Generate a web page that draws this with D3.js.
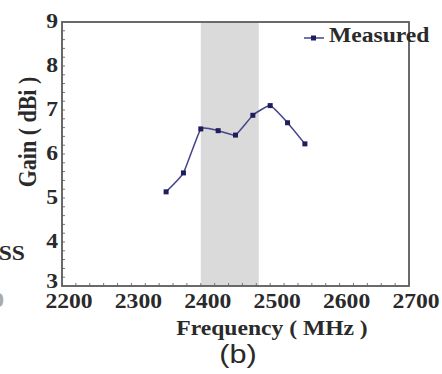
<!DOCTYPE html>
<html>
<head>
<meta charset="utf-8">
<script src="https://cdn.jsdelivr.net/npm/d3@7"></script>
<style>
  body { margin: 0; background: #fff; }
  svg { display: block; }
</style>
</head>
<body>
<svg id="chart" width="442" height="374"></svg>
<script>
// measured gain vs frequency
const freqs = [2350, 2375, 2400, 2425, 2450, 2475, 2500, 2525, 2550];
const gains = [5.14, 5.57, 6.57, 6.53, 6.43, 6.88, 7.10, 6.71, 6.23];
const band = [2400, 2483.5];
const xTicks = [2200, 2300, 2400, 2500, 2600, 2700];
const yTicks = [3, 4, 5, 6, 7, 8, 9];

const sx = 1.18; // the figure is a bit stretched sideways
const serif = "'Liberation Serif', 'Times New Roman', Times, serif";

let svg = d3.select("#chart");

let x = d3.scaleLinear().domain([2200, 2700]).range([62, 409]);
let y = d3.scaleLinear().domain([3, 9]).range([286, 22]);

// places a bold serif text with the same horizontal stretch as the picture
function label(txt, px, py, size, anchor, rot) {
  return svg.append("text")
    .text(txt)
    .attr("text-anchor", anchor)
    .attr("font-size", size)
    .style("font-family", serif)
    .style("font-weight", "bold")
    .style("fill", "#2a2a2a")
    .attr("transform", "translate(" + px + "," + py + ") scale(" + sx + ",1)" + (rot ? " rotate(" + rot + ")" : ""));
}

// shaded band
svg.append("rect")
  .attr("x", x(band[0]))
  .attr("y", y(9))
  .attr("width", x(band[1]) - x(band[0]))
  .attr("height", y(3) - y(9))
  .attr("fill", "#dadada");

// minor ticks, inward
svg.selectAll(".xminor")
  .data(d3.range(2220, 2700, 20))
  .join("line")
    .attr("x1", d => x(d)).attr("x2", d => x(d))
    .attr("y1", y(3)).attr("y2", y(3) - 3)
    .attr("stroke", "#777").attr("stroke-width", 1);

svg.selectAll(".yminor")
  .data(d3.range(3.2, 9, 0.2))
  .join("line")
    .attr("x1", x(2200)).attr("x2", x(2200) + 3)
    .attr("y1", d => y(d)).attr("y2", d => y(d))
    .attr("stroke", "#777").attr("stroke-width", 1);

// frame
svg.append("rect")
  .attr("x", x(2200))
  .attr("y", y(9))
  .attr("width", x(2700) - x(2200))
  .attr("height", y(3) - y(9))
  .attr("fill", "none")
  .attr("stroke", "#5a5a5a")
  .attr("stroke-width", 1.8);

// tick labels
xTicks.forEach(t => label(t, x(t) + 7, 308, 20, "middle"));
yTicks.forEach(t => label(t, 58, y(t) + (t == 3 ? 2 : 6), 20, "end"));

// curve + markers
let pts = freqs.map((f, i) => [f, gains[i]]);
let line = d3.line()
  .x(d => x(d[0]))
  .y(d => y(d[1]))
  .curve(d3.curveCardinal.tension(0.6));

svg.append("path")
  .attr("d", line(pts))
  .attr("fill", "none")
  .attr("stroke", "#45458a")
  .attr("stroke-width", 1.5);

svg.selectAll(".pt")
  .data(pts)
  .join("rect")
    .attr("x", d => x(d[0]) - 2.5)
    .attr("y", d => y(d[1]) - 2.5)
    .attr("width", 5).attr("height", 5)
    .attr("fill", "#1e1e5c");

// legend
svg.append("line")
  .attr("x1", 304).attr("x2", 324)
  .attr("y1", 38).attr("y2", 38)
  .attr("stroke", "#45458a").attr("stroke-width", 1.5);
svg.append("rect")
  .attr("x", 311).attr("y", 35.5).attr("width", 5).attr("height", 5)
  .attr("fill", "#1e1e5c");
label("Measured", 329, 42, 20, "start");

// axis titles
label("Frequency ( MHz )", 272, 335, 20, "middle");
label("Gain ( dBi )", 36, 132, 22, "middle", -90);

// cut-off bits of the neighbouring panel
label("SS", 25, 260, 20, "end");
label("0", 4, 307, 20, "end").style("fill", "#aaa");

// panel letter
svg.append("text")
  .text("(b)")
  .attr("text-anchor", "middle")
  .attr("font-size", 26)
  .style("font-family", "'Liberation Sans', Arial, sans-serif")
  .style("fill", "#2a2a2a")
  .attr("transform", "translate(238,363) scale(" + sx + ",1)");
</script>
</body>
</html>
